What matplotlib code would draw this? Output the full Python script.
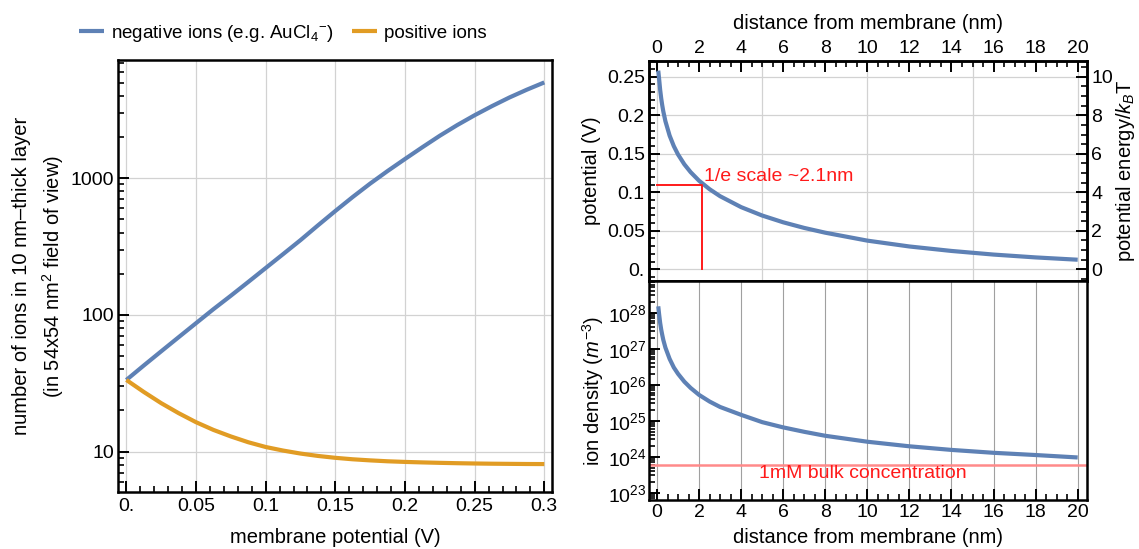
import matplotlib
matplotlib.use("Agg")
import matplotlib.pyplot as plt
from matplotlib.ticker import MultipleLocator, LogLocator, NullFormatter, FixedLocator

plt.rcParams['font.family'] = ['Liberation Sans', 'DejaVu Sans']
plt.rcParams['mathtext.fontset'] = 'custom'
plt.rcParams['mathtext.rm'] = 'Liberation Sans'
plt.rcParams['mathtext.it'] = 'Liberation Sans:italic'
plt.rcParams['mathtext.sf'] = 'Liberation Sans'
plt.rcParams['font.size'] = 14
plt.rcParams['axes.unicode_minus'] = True

# ---------------- data ----------------
membrane_potential = [0.0, 0.0125, 0.025, 0.0375, 0.05, 0.0625, 0.075, 0.0875, 0.1,
                      0.1125, 0.125, 0.1375, 0.15, 0.1625, 0.175, 0.1875, 0.2,
                      0.2125, 0.225, 0.2375, 0.25, 0.2625, 0.275, 0.2875, 0.3]
negative_ions = [33.4, 42.6, 54.1, 68.6, 86.9, 110, 138, 174, 220,
                 278, 352, 451, 575, 728, 912, 1127, 1380,
                 1683, 2042, 2443, 2884, 3365, 3890, 4436, 5012]
positive_ions = [33.4, 27.3, 22.6, 19.1, 16.4, 14.4, 12.9, 11.7, 10.8,
                 10.17, 9.67, 9.29, 9.0, 8.78, 8.62, 8.49, 8.4,
                 8.33, 8.27, 8.22, 8.18, 8.15, 8.13, 8.11, 8.1]

distance_nm = [0.06, 0.1, 0.15, 0.2, 0.25, 0.3, 0.4, 0.6, 0.8, 1.0, 1.3, 1.6, 2.0, 2.5, 3.0,
               4.0, 5.0, 6.0, 7.0, 8.0, 10.0, 12.0, 14.0, 16.0, 18.0, 20.0]
potential_V = [0.258, 0.2474, 0.2331, 0.2220, 0.2128, 0.2050, 0.1923, 0.1736, 0.1599,
               0.1491, 0.1363, 0.1261, 0.1150, 0.1040, 0.0949, 0.0807, 0.0698, 0.0610,
               0.0537, 0.0475, 0.0372, 0.0296, 0.0238, 0.0191, 0.0154, 0.0124]
ion_density = [1.5e28, 9.1e27, 5.2e27, 3.4e27, 2.4e27, 1.75e27, 1.07e27, 5.2e26, 3.0e26,
               2.0e26, 1.21e26, 8.1e25, 5.2e25, 3.4e25, 2.4e25, 1.45e25, 9.1e24, 6.5e24,
               4.9e24, 3.8e24, 2.6e24, 1.94e24, 1.54e24, 1.28e24, 1.11e24, 9.5e23]

bulk_density = 6.0e23
efold_distance = 2.14
efold_potential = 0.11

left_xticks = [0.0, 0.05, 0.1, 0.15, 0.2, 0.25, 0.3]
left_xticklabels = ['0.', '0.05', '0.1', '0.15', '0.2', '0.25', '0.3']
left_yticks = [10, 100, 1000]
left_yticklabels = ['10', '100', '1000']
pot_yticks = [0.0, 0.05, 0.1, 0.15, 0.2, 0.25]
pot_yticklabels = ['0.', '0.05', '0.1', '0.15', '0.2', '0.25']
energy_ticks = [0, 2, 4, 6, 8, 10]
dist_ticks = [0, 2, 4, 6, 8, 10, 12, 14, 16, 18, 20]
top_grid_nm = [0, 5, 10, 15, 20]
dens_yticks = [1e23, 1e24, 1e25, 1e26, 1e27, 1e28]
dens_yticklabels = [r'$10^{23}$', r'$10^{24}$', r'$10^{25}$', r'$10^{26}$', r'$10^{27}$', r'$10^{28}$']

# ---------------- style ----------------
BLUE = '#5E81B5'
ORANGE = '#E19C24'
RED = '#ff1a1a'
GRID = '#d2d2d2'
SPINE_W = 1.8
LW = 3.0
TICK_FS = 14
LABEL_FS = 14.5


def style_axes(ax):
    for s in ax.spines.values():
        s.set_linewidth(SPINE_W)
    ax.tick_params(which='major', direction='in', length=8, width=1.4, pad=4, labelsize=TICK_FS)
    ax.tick_params(which='minor', direction='in', length=4.5, width=1.2)


fig = plt.figure(figsize=(11.39, 5.49), dpi=100)

# ---------------- left panel ----------------
axL = fig.add_axes([0.1036, 0.1038, 0.381, 0.7869])
lneg, = axL.plot(membrane_potential, negative_ions, color=BLUE, lw=LW,
                 label=r'negative ions (e.g. AuCl$_{4}{}^{-}$)', solid_capstyle='butt')
lpos, = axL.plot(membrane_potential, positive_ions, color=ORANGE, lw=LW,
                 label='positive ions', solid_capstyle='butt')
axL.set_yscale('log')
axL.set_xlim(-0.006, 0.3055)
axL.set_ylim(5.06, 7310)
axL.set_xticks(left_xticks)
axL.set_xticklabels(left_xticklabels)
axL.xaxis.set_minor_locator(MultipleLocator(0.01))
axL.yaxis.set_major_locator(FixedLocator(left_yticks))
axL.set_yticklabels(left_yticklabels)
axL.yaxis.set_minor_locator(LogLocator(base=10, subs=range(2, 10), numticks=20))
axL.yaxis.set_minor_formatter(NullFormatter())
style_axes(axL)
axL.tick_params(which='both', top=False, right=False)
axL.tick_params(axis='y', which='major', pad=3)
axL.grid(True, which='major', color=GRID, lw=0.9)
axL.set_axisbelow(True)
axL.set_xlabel('membrane potential (V)', labelpad=10, fontsize=LABEL_FS)
axL.set_ylabel('number of ions in 10 nm\u2013thick layer\n(in 54x54 nm$^{2}$ field of view)',
               labelpad=3, linespacing=1.45, fontsize=LABEL_FS)

fig.legend(handles=[lneg, lpos], loc='center', bbox_to_anchor=(283 / 1139, 1 - 33 / 549),
           ncol=2, frameon=False, handlelength=1.3, handletextpad=0.4,
           columnspacing=1.0, fontsize=13.5)

# ---------------- right top panel ----------------
axT = fig.add_axes([0.5698, 0.4882, 0.3845, 0.4007])
axT.plot(distance_nm, potential_V, color=BLUE, lw=LW, solid_capstyle='butt')
axT.plot([0, efold_distance, efold_distance], [efold_potential, efold_potential, 0],
         color=RED, lw=1.4)
axT.text(efold_distance + 0.1, efold_potential + 0.0045, '1/e scale ~2.1nm',
         color=RED, fontsize=TICK_FS, ha='left', va='baseline')
axT.set_xlim(-0.38, 20.44)
axT.set_ylim(-0.0152, 0.2705)
axT.set_yticks(pot_yticks)
axT.set_yticklabels(pot_yticklabels)
axT.yaxis.set_minor_locator(MultipleLocator(0.01))
axT.set_xticks(dist_ticks)
axT.xaxis.set_minor_locator(MultipleLocator(0.5))
style_axes(axT)
axT.tick_params(axis='x', which='both', top=True, bottom=False, labeltop=True, labelbottom=False)
axT.tick_params(axis='x', which='major', pad=3)
axT.tick_params(axis='y', which='both', left=True, right=False)
axT.tick_params(axis='y', which='major', pad=3)
axT.xaxis.set_label_position('top')
axT.set_xlabel('distance from membrane (nm)', labelpad=8, fontsize=LABEL_FS)
axT.set_ylabel('potential (V)', labelpad=4, fontsize=LABEL_FS)
for g in top_grid_nm:
    axT.axvline(g, color=GRID, lw=0.9, zorder=0)
axT.grid(True, axis='y', which='major', color=GRID, lw=0.9)
axT.set_axisbelow(True)

axR = axT.twinx()
axR.set_ylim(-0.0152 * 40, 0.2705 * 40)
axR.set_yticks(energy_ticks)
axR.set_yticklabels([str(t) for t in energy_ticks])
axR.yaxis.set_minor_locator(MultipleLocator(0.5))
style_axes(axR)
axR.tick_params(axis='y', which='both', left=False, right=True)
axR.tick_params(axis='y', which='major', pad=3)
axR.set_ylabel(r'potential energy/$k_B$T', labelpad=1, fontsize=LABEL_FS)

# ---------------- right bottom panel ----------------
axB = fig.add_axes([0.5698, 0.0893, 0.3845, 0.3989])
axB.plot(distance_nm, ion_density, color=BLUE, lw=LW, solid_capstyle='butt', zorder=3)
axB.axhline(bulk_density, color='#ff8a8a', lw=1.8, zorder=2)
axB.text(9.8, 3.3e23, '1mM bulk concentration', color=RED, fontsize=TICK_FS,
         ha='center', va='center')
axB.set_yscale('log')
axB.set_xlim(-0.38, 20.44)
axB.set_ylim(10 ** 22.797, 10 ** 28.88)
axB.yaxis.set_major_locator(FixedLocator(dens_yticks))
axB.set_yticklabels(dens_yticklabels)
axB.yaxis.set_minor_locator(LogLocator(base=10, subs=range(2, 10), numticks=20))
axB.yaxis.set_minor_formatter(NullFormatter())
axB.set_xticks(dist_ticks)
axB.xaxis.set_minor_locator(MultipleLocator(0.5))
style_axes(axB)
axB.tick_params(which='both', top=False, right=False)
axB.tick_params(axis='y', which='major', pad=2)
axB.tick_params(axis='x', which='major', pad=3)
axB.grid(True, axis='x', which='major', color='#a0a0a0', lw=0.8)
axB.set_axisbelow(True)
axB.set_xlabel('distance from membrane (nm)', labelpad=5, fontsize=LABEL_FS)
axB.set_ylabel('ion density ($m^{-3}$)', labelpad=1, fontsize=LABEL_FS)

fig.savefig('out.png', dpi=100)
